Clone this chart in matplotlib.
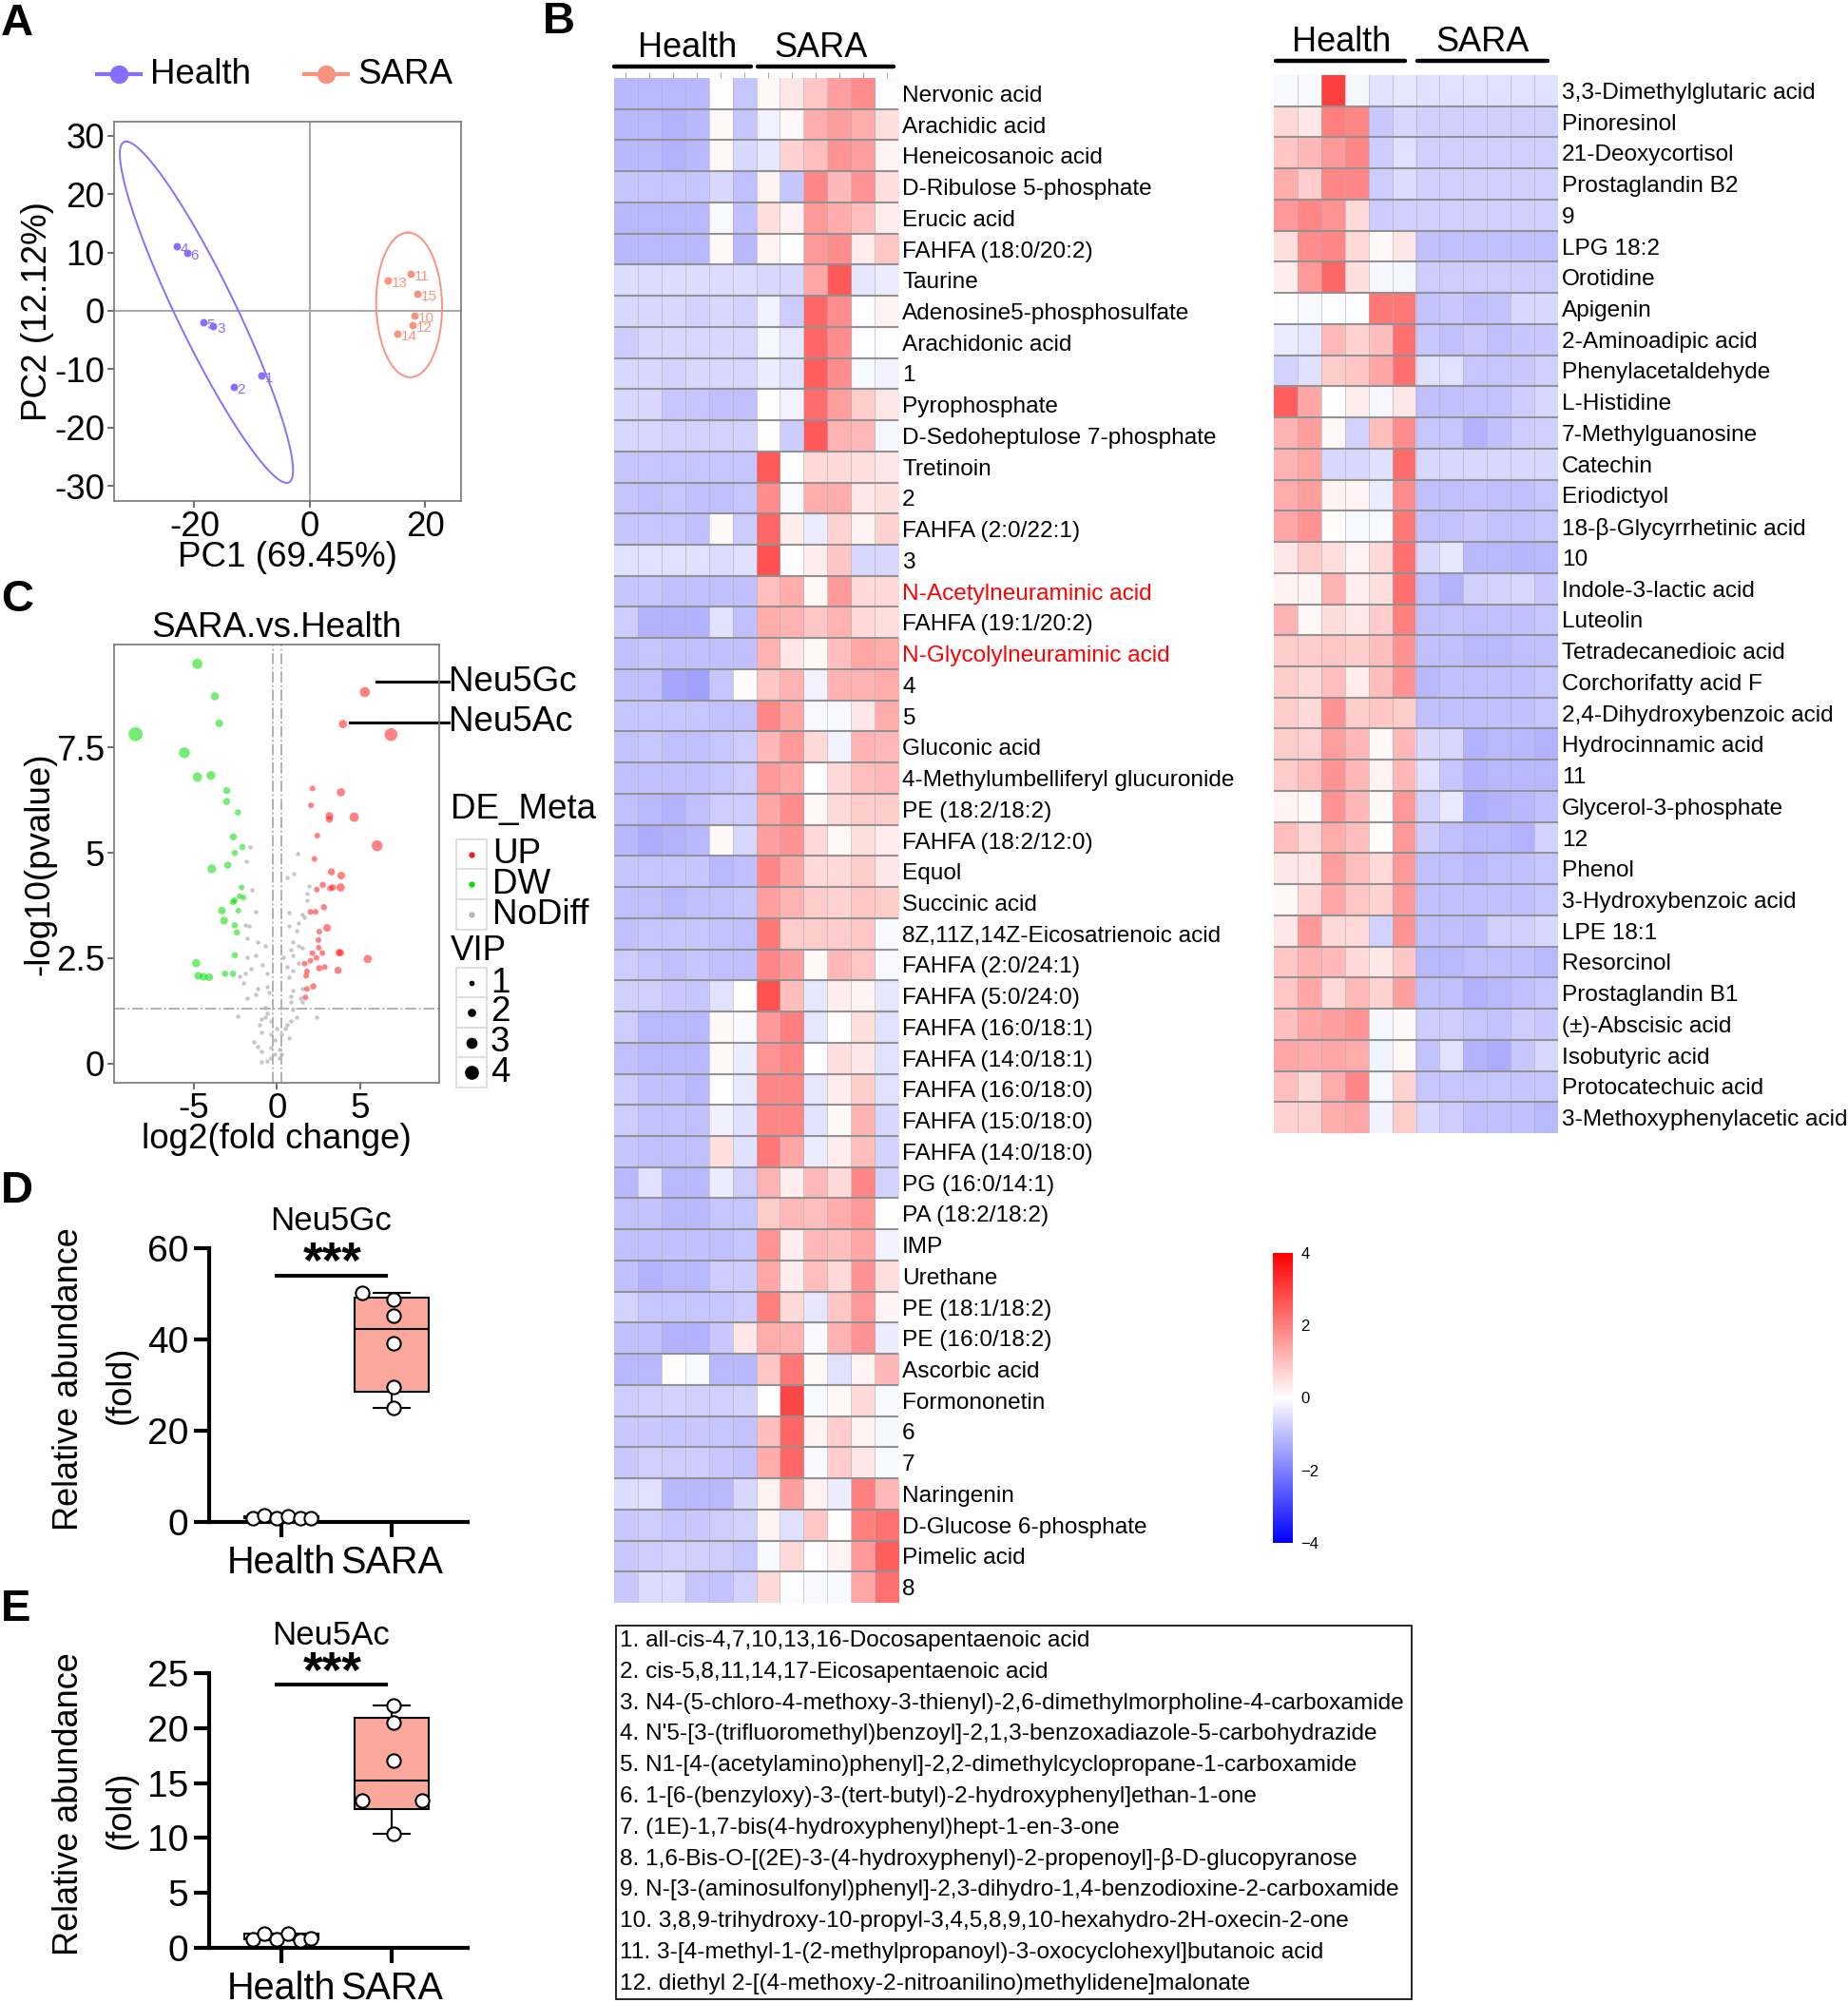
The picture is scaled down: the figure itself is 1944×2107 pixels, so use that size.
import numpy as np
import matplotlib
matplotlib.use("Agg")
import matplotlib.pyplot as plt
from matplotlib.colors import LinearSegmentedColormap
from matplotlib.patches import Rectangle
from matplotlib.lines import Line2D

plt.rcParams['font.family'] = ['Liberation Sans', 'DejaVu Sans']
plt.rcParams['axes.unicode_minus'] = False

W, H = 1944, 2107

# ── DATA ────────────────────────────────────────────────────────────────
# A: PCA scores
pca_health_x = [-8.4, -13.2, -16.7, -23.1, -18.5, -21.3]
pca_health_y = [-11.1, -13.0, -2.6, 11.0, -2.0, 10.0]
pca_health_id = ['1', '2', '3', '4', '5', '6']
pca_sara_x = [18.1, 17.5, 17.8, 13.5, 15.2, 18.7]
pca_sara_y = [-0.9, 6.3, -2.4, 5.2, -3.9, 2.9]
pca_sara_id = ['10', '11', '12', '13', '14', '15']
# confidence ellipses: centre, major-axis vector, minor-axis vector
ell_health = [(-17.9, -0.25), (-13.9, 29.25), (5.65, 0.0)]
ell_sara = [(17.2, 1.0), (-0.2, 12.4), (5.7, 0.0)]

# C: volcano plot
up_x = [5.28, 3.96, 6.85, 2.13, 3.84, 2.04, 3.15, 3.15, 4.64, 2.42, 6.02, 2.25, 3.27, 3.86,
        2.75, 2.39, 3.20, 3.36, 3.82, 2.82, 2.01, 2.32, 3.01, 2.54, 2.49, 2.51, 2.73, 2.13,
        3.72, 3.82, 5.45, 2.37, 1.66, 2.01, 2.54, 2.87, 3.67, 1.80, 1.75, 2.18, 1.80, 1.71]
up_y = [8.82, 8.06, 7.81, 6.53, 6.44, 6.13, 5.88, 5.80, 5.85, 5.41, 5.17, 4.86, 4.55, 4.46,
        4.24, 4.13, 4.16, 4.18, 4.18, 3.71, 3.60, 3.60, 3.22, 3.13, 2.93, 2.75, 2.62, 2.62,
        2.63, 2.63, 2.48, 2.51, 2.37, 2.44, 2.26, 2.29, 2.21, 2.19, 2.08, 1.83, 1.77, 1.57]
up_vip = [2.7, 2.0, 3.6, 1.1, 2.0, 1.1, 1.8, 1.6, 2.4, 1.1, 2.9, 1.1, 1.6, 1.8,
          1.3, 1.1, 1.3, 1.3, 2.0, 1.3, 1.1, 1.1, 1.8, 1.1, 1.1, 1.1, 1.1, 1.1,
          1.6, 1.6, 2.0, 1.1, 1.1, 1.1, 1.3, 1.1, 1.6, 1.1, 1.1, 1.3, 1.1, 1.1]
dw_x = [-4.79, -3.74, -3.48, -8.51, -5.57, -4.79, -3.98, -3.03, -3.03, -2.35, -2.63, -2.09,
        -2.54, -2.96, -3.93, -2.13, -2.25, -2.01, -2.54, -2.65, -3.32, -2.32, -3.18, -2.54,
        -2.42, -2.54, -4.86, -4.74, -4.43, -4.08, -3.13, -2.65]
dw_y = [9.49, 8.72, 8.08, 7.82, 7.38, 6.80, 6.84, 6.48, 6.22, 5.96, 5.38, 5.14,
        5.00, 4.71, 4.62, 4.18, 3.97, 3.94, 3.87, 3.83, 3.63, 3.63, 3.39, 3.28,
        3.11, 2.57, 2.38, 2.08, 2.06, 2.05, 2.13, 2.13]
dw_vip = [2.7, 2.0, 1.8, 4.0, 2.9, 2.4, 2.2, 1.6, 1.6, 1.3, 1.6, 1.3,
          1.3, 1.6, 2.2, 1.1, 1.1, 1.1, 1.3, 1.3, 1.8, 1.1, 1.8, 1.3,
          1.3, 1.3, 2.0, 1.8, 1.8, 1.8, 1.3, 1.3]
nd_x = [-1.64, -1.87, 1.26, 1.02, 0.59, 1.90, -1.49, 1.78, 1.78, -1.30, 0.71, 1.54, 1.66,
        1.30, 0.71, -1.90, -1.66, 1.18, -1.78, -1.18, -0.71, 0.95, 1.30, 0.83, 1.54, -1.30,
        0.95, -1.82, 0.36, 1.30, -0.88, -1.54, 0.59, 0.95, -1.90, -2.25, -0.59, 0.71, -2.01,
        -1.18, 1.54, -0.59, 0.95, 0.83, -1.30, -1.78, -0.47, 1.42, 0.83, 1.54, -2.37, 2.37,
        -0.71, -0.59, -0.95, 0.95, 1.18, 0.83, 0.59, 0.47, -1.07, -0.95, 0.24, -0.12, -1.42,
        -0.36, 0.12, -0.95, -0.12, -0.36, 0.12, -0.95, -0.59, 0.24, -1.18, 0.71, -0.36, 0.00,
        -0.36, -0.71]
nd_y = [5.14, 4.80, 4.98, 4.51, 4.42, 4.22, 4.13, 4.04, 3.87, 3.60, 3.58, 3.53, 3.46,
        3.33, 3.26, 3.29, 3.26, 3.15, 2.97, 2.88, 2.79, 2.88, 2.79, 2.71, 2.75, 2.57,
        2.57, 2.53, 2.53, 2.39, 2.35, 2.26, 2.30, 2.21, 2.13, 2.08, 2.13, 2.04, 1.90,
        1.77, 1.77, 1.83, 1.72, 1.59, 1.63, 1.54, 1.68, 1.54, 1.46, 1.46, 1.12, 1.10,
        1.32, 1.19, 1.05, 1.28, 1.10, 1.01, 0.92, 0.83, 0.92, 0.74, 0.70, 0.56, 0.52,
        0.38, 0.34, 0.29, 0.21, 0.12, 0.12, 0.04, 0.07, 0.21, 0.40, 0.61, 0.70, 0.83,
        1.01, 1.10]
nd_vip = 0.6
label_gc = (5.28, 9.06)
label_ac = (3.96, 8.10)

# B: heatmaps (z-scores; 6 Health columns then 6 SARA columns)
left_rows = ["Nervonic acid", "Arachidic acid", "Heneicosanoic acid", "D-Ribulose 5-phosphate",
             "Erucic acid", "FAHFA (18:0/20:2)", "Taurine", "Adenosine5-phosphosulfate",
             "Arachidonic acid", "1", "Pyrophosphate", "D-Sedoheptulose 7-phosphate", "Tretinoin",
             "2", "FAHFA (2:0/22:1)", "3", "N-Acetylneuraminic acid", "FAHFA (19:1/20:2)",
             "N-Glycolylneuraminic acid", "4", "5", "Gluconic acid",
             "4-Methylumbelliferyl glucuronide", "PE (18:2/18:2)", "FAHFA (18:2/12:0)", "Equol",
             "Succinic acid", "8Z,11Z,14Z-Eicosatrienoic acid", "FAHFA (2:0/24:1)",
             "FAHFA (5:0/24:0)", "FAHFA (16:0/18:1)", "FAHFA (14:0/18:1)", "FAHFA (16:0/18:0)",
             "FAHFA (15:0/18:0)", "FAHFA (14:0/18:0)", "PG (16:0/14:1)", "PA (18:2/18:2)", "IMP",
             "Urethane", "PE (18:1/18:2)", "PE (16:0/18:2)", "Ascorbic acid", "Formononetin",
             "6", "7", "Naringenin", "D-Glucose 6-phosphate", "Pimelic acid", "8"]
left_red = ["N-Acetylneuraminic acid", "N-Glycolylneuraminic acid"]
left_values = [
    [-1.1, -1.1, -1.1, -1.1, -0.05, -0.9, 0.1, 0.4, 0.9, 1.5, 1.8, -0.05],
    [-1.1, -1.1, -1.2, -1.1, 0.1, -0.9, -0.2, 0.1, 1.3, 1.5, 1.3, 0.5],
    [-1.1, -1.1, -1.2, -1.1, 0.15, -0.6, -0.4, 0.7, 1.0, 1.7, 1.5, 0.2],
    [-0.9, -0.9, -0.9, -0.9, -0.6, -1.0, 0.2, -0.9, 1.9, 1.1, 1.7, 0.5],
    [-1.1, -1.1, -1.1, -1.1, -0.1, -1.0, 0.5, 0.2, 1.6, 1.3, 1.0, 0.3],
    [-1.1, -1.1, -1.1, -1.1, 0.1, -1.1, 0.2, 0.0, 1.6, 1.8, 0.3, 0.9],
    [-0.55, -0.55, -0.55, -0.55, -0.55, -0.55, -0.6, -0.6, 1.4, 2.6, -0.4, -0.3],
    [-0.6, -0.6, -0.6, -0.7, -0.6, -0.7, -0.2, -0.8, 2.4, 1.8, -0.05, 0.2],
    [-0.8, -0.6, -0.6, -0.65, -0.6, -0.65, -0.15, -0.4, 2.4, 1.8, -0.05, -0.05],
    [-0.6, -0.6, -0.7, -0.6, -0.6, -0.65, -0.3, -0.5, 2.5, 1.8, -0.1, -0.2],
    [-0.6, -0.6, -0.9, -0.9, -1.0, -1.0, 0.0, -0.2, 2.3, 1.5, 0.8, 0.4],
    [-0.65, -0.65, -0.7, -0.7, -0.7, -0.7, 0.0, -0.8, 2.6, 1.2, 1.1, -0.15],
    [-0.9, -0.9, -0.9, -0.9, -0.9, -0.9, 2.6, 0.0, 0.6, 0.6, 0.5, 0.4],
    [-0.9, -1.0, -0.9, -1.0, -1.0, -0.9, 1.8, -0.1, 1.3, 1.3, 0.4, 0.5],
    [-0.9, -0.9, -0.9, -1.0, 0.1, -0.8, 2.4, 0.3, -0.3, 0.7, 0.2, 0.7],
    [-0.5, -0.5, -0.5, -0.5, -0.55, -0.5, 2.7, -0.05, 0.3, 0.9, -0.6, -0.6],
    [-0.9, -0.9, -1.0, -1.0, -1.0, -1.0, 1.0, 1.3, 0.15, 1.6, 0.6, 0.6],
    [-0.8, -1.2, -1.2, -1.2, -0.5, -1.0, 1.3, 1.2, 0.9, 1.2, 0.6, 0.5],
    [-1.0, -0.9, -1.0, -1.0, -1.0, -1.0, 1.2, 0.4, 0.15, 1.0, 1.4, 1.3],
    [-1.0, -1.0, -1.4, -1.5, -0.9, 0.05, 0.9, 1.2, -0.2, 1.2, 1.2, 1.3],
    [-0.9, -0.9, -0.9, -0.9, -0.95, -0.95, 1.9, 1.4, -0.1, -0.1, 0.4, 1.3],
    [-0.95, -0.9, -1.0, -1.0, -0.9, -0.8, 1.1, 1.6, 0.6, -0.2, 1.2, 1.1],
    [-1.0, -1.0, -1.0, -1.0, -0.9, -0.8, 1.6, 1.4, -0.05, 0.6, 1.0, 1.1],
    [-1.0, -1.1, -1.2, -1.0, -0.8, -0.8, 1.4, 1.8, 0.15, 0.6, 0.8, 0.8],
    [-1.1, -1.3, -1.2, -1.1, 0.1, -0.6, 1.5, 1.7, 0.6, 0.15, 0.5, 0.3],
    [-0.9, -0.9, -0.9, -0.9, -1.1, -1.0, 1.9, 1.4, 0.6, 0.6, 0.8, 0.4],
    [-1.0, -1.0, -1.1, -1.0, -0.95, -0.9, 1.5, 1.2, 0.8, 0.7, 0.9, 0.8],
    [-1.0, -0.9, -0.9, -0.9, -0.95, -1.0, 2.1, 0.8, 0.8, 0.8, 0.9, -0.1],
    [-0.8, -0.9, -1.0, -0.9, -1.0, -1.0, 1.9, 1.5, 0.1, 1.1, 0.9, -0.1],
    [-0.75, -0.75, -0.85, -0.9, -0.5, 0.0, 2.7, 1.0, -0.4, 0.3, 0.2, -0.4],
    [-0.8, -1.1, -1.1, -1.1, 0.1, -0.1, 1.6, 2.0, -0.4, 0.0, 0.5, -0.5],
    [-1.0, -1.1, -1.1, -1.1, 0.1, -0.3, 1.7, 1.9, -0.05, 0.5, 0.4, -0.5],
    [-0.8, -1.0, -1.0, -1.1, -0.05, -0.35, 1.9, 1.9, -0.4, 0.3, 0.8, -0.5],
    [-0.8, -0.95, -0.95, -1.0, -0.25, -0.5, 1.9, 1.9, -0.5, 0.1, 1.2, -0.6],
    [-0.9, -1.0, -1.0, -1.0, 0.5, -0.5, 2.1, 1.4, -0.3, 0.3, 1.0, -0.7],
    [-1.1, -0.5, -1.1, -1.1, -0.3, -0.8, 1.2, 0.3, 1.1, 0.6, 1.9, -0.7],
    [-0.95, -0.95, -1.1, -1.1, -0.9, -0.9, 0.8, 1.1, 1.0, 1.3, 1.6, 0.0],
    [-1.0, -1.0, -1.0, -1.0, -1.0, -0.9, 1.7, 0.3, 1.1, 1.0, 1.4, -0.2],
    [-1.0, -1.2, -1.1, -1.1, -0.8, -0.8, 1.4, 0.3, 1.0, 0.6, 1.7, 0.5],
    [-0.7, -0.9, -0.9, -0.9, -0.9, -0.8, 2.0, 0.6, -0.4, 0.9, 1.6, 0.2],
    [-1.0, -1.0, -1.2, -1.2, -0.85, 0.4, 1.3, 1.2, -0.1, 1.2, 1.7, -0.3],
    [-1.1, -1.1, 0.05, -0.1, -1.1, -1.1, 0.9, 2.1, 0.1, -0.5, 0.2, 1.1],
    [-0.8, -0.75, -0.7, -0.75, -0.75, -0.7, 0.0, 2.9, -0.1, 0.15, 0.6, -0.1],
    [-0.85, -0.85, -0.9, -0.85, -0.9, -0.95, 1.0, 2.4, 0.2, 0.8, 0.2, -0.15],
    [-0.85, -0.75, -0.8, -0.8, -0.85, -0.95, 1.3, 2.4, -0.1, 0.8, 0.4, -0.1],
    [-0.55, -0.5, -1.1, -1.1, -1.1, -0.6, 0.2, 1.5, 0.2, -0.3, 2.0, 1.1],
    [-0.85, -0.8, -0.9, -0.85, -0.8, -0.7, 0.2, -0.5, 0.9, 0.0, 2.0, 2.2],
    [-0.85, -0.8, -0.7, -0.75, -0.8, -0.9, -0.1, 0.6, -0.05, 0.2, 1.6, 2.5],
    [-0.85, -0.55, -0.55, -0.9, -0.95, -0.7, 0.6, -0.05, -0.1, -0.1, 1.4, 2.2],
]
right_rows = ["3,3-Dimethylglutaric acid", "Pinoresinol", "21-Deoxycortisol", "Prostaglandin B2",
              "9", "LPG 18:2", "Orotidine", "Apigenin", "2-Aminoadipic acid", "Phenylacetaldehyde",
              "L-Histidine", "7-Methylguanosine", "Catechin", "Eriodictyol",
              "18-\u03b2-Glycyrrhetinic acid", "10", "Indole-3-lactic acid", "Luteolin",
              "Tetradecanedioic acid", "Corchorifatty acid F", "2,4-Dihydroxybenzoic acid",
              "Hydrocinnamic acid", "11", "Glycerol-3-phosphate", "12", "Phenol",
              "3-Hydroxybenzoic acid", "LPE 18:1", "Resorcinol", "Prostaglandin B1",
              "(\u00b1)-Abscisic acid", "Isobutyric acid", "Protocatechuic acid",
              "3-Methoxyphenylacetic acid"]
right_values = [
    [-0.1, -0.1, 3.0, -0.15, -0.45, -0.4, -0.5, -0.5, -0.5, -0.5, -0.5, -0.5],
    [0.6, 0.4, 2.0, 1.9, -0.85, -0.6, -0.75, -0.75, -0.75, -0.75, -0.75, -0.75],
    [0.9, 1.1, 1.6, 1.9, -0.8, -0.5, -0.75, -0.75, -0.75, -0.75, -0.75, -0.75],
    [1.3, 0.8, 1.9, 1.9, -0.8, -0.55, -0.75, -0.75, -0.75, -0.75, -0.75, -0.75],
    [1.6, 1.9, 1.7, 0.6, -0.8, -0.75, -0.75, -0.75, -0.75, -0.75, -0.75, -0.75],
    [0.5, 1.8, 1.9, 0.6, 0.1, 0.4, -1.0, -1.0, -1.0, -1.0, -1.0, -1.0],
    [0.3, 1.6, 2.4, 0.5, -0.15, -0.15, -0.8, -0.8, -0.8, -0.8, -0.8, -0.8],
    [-0.05, -0.1, -0.05, -0.05, 2.1, 2.1, -0.95, -0.85, -1.0, -0.95, -0.6, -0.6],
    [-0.3, -0.4, 1.1, 0.7, 1.0, 2.2, -0.85, -1.0, -0.85, -1.0, -0.9, -0.85],
    [-0.7, -0.5, 0.8, 0.9, 1.4, 2.2, -0.5, -0.5, -0.9, -0.9, -0.85, -0.75],
    [2.5, 1.4, 0.0, 0.3, -0.15, 0.4, -1.0, -1.0, -0.95, -0.95, -0.8, -0.6],
    [1.2, 1.5, 0.15, -0.7, 1.0, 1.8, -0.9, -0.9, -1.2, -1.0, -0.8, -0.75],
    [1.2, 1.4, -0.6, -0.6, -0.5, 2.3, -0.6, -0.6, -0.6, -0.6, -0.6, -0.6],
    [1.3, 1.5, 0.2, 0.2, -0.3, 1.8, -1.0, -1.0, -0.95, -1.0, -1.0, -0.9],
    [1.4, 1.7, 0.05, -0.1, -0.1, 2.1, -0.95, -0.95, -0.85, -0.95, -0.95, -0.9],
    [0.4, 0.8, 0.5, 0.2, 0.6, 2.2, -0.6, -0.4, -1.1, -1.1, -1.15, -1.1],
    [0.2, 0.2, 1.2, 0.25, 0.5, 2.2, -1.0, -1.2, -0.75, -0.7, -0.65, -0.85],
    [1.2, 0.1, 0.55, 0.35, 0.8, 2.0, -1.0, -0.95, -1.0, -1.0, -1.0, -0.9],
    [0.8, 0.8, 0.9, 0.8, 1.0, 1.7, -1.0, -1.0, -1.1, -1.1, -1.0, -1.0],
    [0.8, 0.6, 1.0, 0.3, 1.0, 1.7, -1.1, -1.0, -1.0, -1.0, -1.0, -0.9],
    [0.8, 0.6, 1.7, 0.8, 0.9, 0.8, -1.0, -1.0, -1.0, -1.0, -1.0, -0.9],
    [0.8, 0.7, 1.5, 1.1, 0.1, 1.1, -0.6, -0.65, -1.2, -1.1, -1.1, -1.2],
    [0.8, 1.0, 1.7, 1.1, 0.2, 1.1, -0.5, -0.9, -1.2, -1.1, -1.1, -1.1],
    [0.2, 0.1, 1.7, 1.1, 0.1, 1.6, -0.7, -0.35, -1.3, -1.2, -1.1, -1.0],
    [1.0, 0.6, 1.3, 1.0, 0.05, 1.6, -0.8, -1.0, -1.1, -1.1, -1.2, -0.7],
    [0.4, 0.4, 1.5, 1.0, 0.6, 1.6, -1.0, -1.0, -1.1, -1.0, -1.0, -0.9],
    [0.1, 0.6, 1.4, 0.9, 0.7, 1.6, -1.0, -1.0, -1.0, -1.0, -1.0, -0.9],
    [0.4, 1.6, 0.6, 0.6, -0.7, 1.7, -1.0, -1.0, -1.05, -0.75, -0.75, -0.6],
    [0.9, 1.2, 1.1, 0.6, 0.4, 0.9, -1.1, -1.1, -1.0, -1.0, -1.0, -1.1],
    [0.9, 1.4, 0.6, 1.1, 0.7, 1.5, -1.0, -1.0, -1.2, -1.1, -1.0, -0.9],
    [1.0, 1.4, 1.5, 1.7, -0.15, 0.1, -0.8, -0.8, -0.9, -0.95, -0.8, -0.85],
    [1.4, 1.3, 1.4, 1.3, -0.2, 0.15, -0.95, -0.5, -1.2, -1.3, -0.9, -0.6],
    [1.0, 0.6, 1.3, 1.9, -0.15, 0.7, -0.9, -0.9, -0.9, -0.9, -0.9, -0.9],
    [0.7, 0.7, 1.3, 1.4, -0.2, 0.8, -0.6, -0.8, -1.0, -1.0, -1.0, -1.1],
]
footnotes = [
    "1. all-cis-4,7,10,13,16-Docosapentaenoic acid",
    "2. cis-5,8,11,14,17-Eicosapentaenoic acid",
    "3. N4-(5-chloro-4-methoxy-3-thienyl)-2,6-dimethylmorpholine-4-carboxamide",
    "4. N'5-[3-(trifluoromethyl)benzoyl]-2,1,3-benzoxadiazole-5-carbohydrazide",
    "5. N1-[4-(acetylamino)phenyl]-2,2-dimethylcyclopropane-1-carboxamide",
    "6. 1-[6-(benzyloxy)-3-(tert-butyl)-2-hydroxyphenyl]ethan-1-one",
    "7. (1E)-1,7-bis(4-hydroxyphenyl)hept-1-en-3-one",
    "8. 1,6-Bis-O-[(2E)-3-(4-hydroxyphenyl)-2-propenoyl]-\u03b2-D-glucopyranose",
    "9. N-[3-(aminosulfonyl)phenyl]-2,3-dihydro-1,4-benzodioxine-2-carboxamide",
    "10. 3,8,9-trihydroxy-10-propyl-3,4,5,8,9,10-hexahydro-2H-oxecin-2-one",
    "11. 3-[4-methyl-1-(2-methylpropanoyl)-3-oxocyclohexyl]butanoic acid",
    "12. diethyl 2-[(4-methoxy-2-nitroanilino)methylidene]malonate",
]

# D / E: relative abundance (fold)
groups = ["Health", "SARA"]
gc_health = [0.8, 1.5, 0.8, 1.3, 0.8, 0.8]
gc_sara = [50.3, 48.7, 45.3, 39.2, 29.6, 25.1]
ac_health = [0.8, 1.3, 0.8, 1.3, 0.7, 0.9]
ac_sara = [22.1, 20.5, 17.0, 13.4, 13.4, 10.4]
health_jit = [-0.26, -0.155, -0.04, 0.057, 0.17, 0.27]
gc_sara_jit = [-0.27, 0.02, 0.02, 0.02, 0.02, 0.02]
ac_sara_jit = [0.02, 0.02, 0.02, -0.265, 0.275, 0.02]

C_HEALTH = '#8470FF'
C_SARA = '#F8937E'
FS_AC = 26.5      # font size for panels A and C
FS_HM = 17.6      # heatmap row labels

fig = plt.figure(figsize=(W / 100, H / 100), dpi=100)


def rect(x0, y0, x1, y1):
    return [x0 / W, 1 - y1 / H, (x1 - x0) / W, (y1 - y0) / H]


def vip_size(v):
    d = 3.0 * np.asarray(v, dtype=float) + 2.7      # diameter in px
    return (d * 0.72) ** 2


# ── A: PCA ──────────────────────────────────────────────────────────────
axA = fig.add_axes(rect(120, 128, 485, 527))
axA.axhline(0, color='#aaaaaa', lw=1.5, zorder=0)
axA.axvline(0, color='#aaaaaa', lw=1.5, zorder=0)
t = np.linspace(0, 2 * np.pi, 300)
for ell, col in [(ell_health, C_HEALTH), (ell_sara, C_SARA)]:
    c, u, v = ell
    ex = c[0] + u[0] * np.cos(t) + v[0] * np.sin(t)
    ey = c[1] + u[1] * np.cos(t) + v[1] * np.sin(t)
    axA.plot(ex, ey, color=col, lw=1.4)
for xs, ys, ids, col in [(pca_health_x, pca_health_y, pca_health_id, C_HEALTH),
                         (pca_sara_x, pca_sara_y, pca_sara_id, C_SARA)]:
    axA.scatter(xs, ys, s=22, color=col, zorder=3)
    for x, y, s in zip(xs, ys, ids):
        axA.text(x + 0.6, y - 0.5, s, color=col, fontsize=11, ha='left', va='center')
axA.set_xlim(-33.9, 26.2)
axA.set_ylim(-32.6, 32.4)
axA.set_xticks([-20, 0, 20])
axA.set_yticks([-30, -20, -10, 0, 10, 20, 30])
axA.tick_params(labelsize=FS_AC, length=5, width=1.2, color='#555555', pad=2)
for s in axA.spines.values():
    s.set_color('#777777')
    s.set_linewidth(1.2)
axA.set_xlabel("PC1 (69.45%)", fontsize=FS_AC, labelpad=-2)
axA.set_ylabel("PC2 (12.12%)", fontsize=FS_AC, labelpad=0)

# ── C: volcano ──────────────────────────────────────────────────────────
axC = fig.add_axes(rect(120, 678, 462, 1139))
axC.axvline(-0.263, color='#aaaaaa', lw=1.3, ls='-.', zorder=0)
axC.axvline(0.263, color='#aaaaaa', lw=1.3, ls='-.', zorder=0)
axC.axhline(1.30, color='#aaaaaa', lw=1.3, ls='-.', zorder=0)
axC.scatter(nd_x, nd_y, s=vip_size(nd_vip), color='#b5b5b5', alpha=0.75, lw=0)
axC.scatter(dw_x, dw_y, s=vip_size(dw_vip), color='#00e000', alpha=0.55, lw=0)
axC.scatter(up_x, up_y, s=vip_size(up_vip), color='#ff1a1a', alpha=0.55, lw=0)
for (lx, ly), name, x0 in [(label_gc, "Neu5Gc", 6.0), (label_ac, "Neu5Ac", 4.38)]:
    axC.plot([x0, 10.3], [ly, ly], color='black', lw=2.2, clip_on=False)
    axC.text(10.35, ly, name, fontsize=FS_AC, ha='left', va='center')
axC.set_xlim(-9.8, 9.75)
axC.set_ylim(-0.46, 9.95)
axC.set_xticks([-5, 0, 5])
axC.set_yticks([0, 2.5, 5, 7.5])
axC.set_yticklabels(["0", "2.5", "5", "7.5"])
axC.tick_params(labelsize=FS_AC, length=5, width=1.2, color='#555555', pad=2)
for s in axC.spines.values():
    s.set_color('#777777')
    s.set_linewidth(1.2)
axC.set_xlabel("log2(fold change)", fontsize=FS_AC, labelpad=-2)
axC.set_ylabel("-log10(pvalue)", fontsize=FS_AC, labelpad=0)
axC.set_title("SARA.vs.Health", fontsize=FS_AC, pad=5)

# ── B: heatmaps ─────────────────────────────────────────────────────────
cmap = LinearSegmentedColormap.from_list("hm", ["#0000FF", "#FFFFFF", "#FF0000"])


def heatmap(box, values, rows, red_rows, top_ticks):
    ax = fig.add_axes(rect(*box))
    data = np.array(values)
    n = data.shape[0]
    im = ax.imshow(data, cmap=cmap, vmin=-4, vmax=4, aspect='auto',
                   extent=(0, 12, n, 0), interpolation='nearest')
    for k in range(1, 12):
        ax.axvline(k, color='#b0b0b0', lw=0.7, alpha=0.6)
    for k in range(1, n):
        ax.axhline(k, color='#929292', lw=1.5)
    ax.set_yticks(np.arange(n) + 0.5)
    ax.set_yticklabels(rows, fontsize=FS_HM)
    ax.yaxis.tick_right()
    ax.tick_params(axis='y', length=0, pad=3)
    for lab in ax.get_yticklabels():
        if lab.get_text() in red_rows:
            lab.set_color('red')
    if top_ticks:
        ax.xaxis.tick_top()
        ax.set_xticks(np.arange(12) + 0.5)
        ax.set_xticklabels([])
        ax.tick_params(axis='x', length=4, color='#aaaaaa', width=0.8)
    else:
        ax.set_xticks([])
    for s in ax.spines.values():
        s.set_visible(False)
    return im


im = heatmap((646, 82, 945, 1686), left_values, left_rows, left_red, True)
heatmap((1340, 79, 1639, 1192), right_values, right_rows, [], False)

cax = fig.add_axes(rect(1339, 1318, 1360, 1623))
cb = fig.colorbar(im, cax=cax, ticks=[-4, -2, 0, 2, 4])
cb.ax.set_yticklabels(['\u22124', '\u22122', '0', '2', '4'])
cb.outline.set_visible(False)
cb.ax.tick_params(length=0, labelsize=12, pad=6)


# ── D / E: box plots (quartiles as in Prism, n+1 method) ───────────────
def box_stats(vals):
    q1, med, q3 = np.percentile(vals, [25, 50, 75], method='weibull')
    return dict(med=med, q1=q1, q3=q3, whislo=min(vals), whishi=max(vals), fliers=[])


def abundance(box, health, sara, s_jit, ymax, yticks, bar_y):
    ax = fig.add_axes(rect(*box))
    bp = ax.bxp([box_stats(health), box_stats(sara)], positions=[0, 1], widths=0.67,
                patch_artist=True, showfliers=False, capwidths=0.32,
                medianprops=dict(color='black', lw=1.5),
                boxprops=dict(lw=1.5, edgecolor='black'),
                whiskerprops=dict(lw=1.5), capprops=dict(lw=1.5))
    bp['boxes'][0].set_facecolor('white')
    bp['boxes'][1].set_facecolor('#F9A89B')
    ax.scatter(np.array(health_jit), health, s=105, facecolor='white', edgecolor='black',
               lw=1.5, zorder=5, clip_on=False)
    ax.scatter(1 + np.array(s_jit), sara, s=105, facecolor='white', edgecolor='black',
               lw=1.5, zorder=5, clip_on=False)
    ax.plot([-0.06, 0.97], [bar_y, bar_y], color='black', lw=2.8, solid_capstyle='butt')
    ax.set_xlim(-0.655, 1.69)
    ax.set_ylim(0, ymax)
    ax.set_yticks(yticks)
    ax.set_xticks([0, 1])
    ax.set_xticklabels(groups, fontsize=28.5)
    ax.tick_params(axis='y', labelsize=28, length=11.5, width=3, pad=4)
    ax.tick_params(axis='x', length=11.3, width=3, pad=6)
    ax.spines['top'].set_visible(False)
    ax.spines['right'].set_visible(False)
    ax.spines['left'].set_linewidth(3)
    ax.spines['bottom'].set_linewidth(3)
    return ax


abundance((220, 1313, 492, 1601), gc_health, gc_sara, gc_sara_jit, 60, [0, 20, 40, 60], 54)
abundance((220, 1760, 492, 2049), ac_health, ac_sara, ac_sara_jit, 25, [0, 5, 10, 15, 20, 25], 24)

# ── overlay: labels, legends, headers, footnote box ─────────────────────
ov = fig.add_axes([0, 0, 1, 1], zorder=10)
ov.set_xlim(0, W)
ov.set_ylim(H, 0)
ov.axis('off')
ov.patch.set_alpha(0)

for lab, x, y in [("A", 1, 3), ("B", 571, 1), ("C", 1, 609), ("D", 1, 1231), ("E", 1, 1671)]:
    ov.text(x, y, lab, fontsize=34, fontweight='bold', ha='left', va='top')

# A legend
for x0, x1, col, name in [(102, 148, C_HEALTH, "Health"), (320, 366, C_SARA, "SARA")]:
    ov.add_line(Line2D([x0, x1], [78, 78], color=col, lw=3))
    ov.plot([(x0 + x1) / 2], [78], 'o', color=col, ms=13)
    ov.text(x1 + 10, 78, name, fontsize=FS_AC, ha='left', va='center')

# C legend
ov.text(474, 852, "DE_Meta", fontsize=FS_AC, ha='left', va='center')
for yc, col, name in [(899, '#ff1a1a', "UP"), (930, '#00e000', "DW"), (962, '#b5b5b5', "NoDiff")]:
    ov.add_patch(Rectangle((480, yc - 16), 32, 32, facecolor='white', edgecolor='#d8d8d8', lw=1.2))
    ov.scatter([496], [yc], s=vip_size(1.2), color=col, lw=0)
    ov.text(518, yc, name, fontsize=FS_AC, ha='left', va='center')
ov.text(474, 1001, "VIP", fontsize=FS_AC, ha='left', va='center')
for k, yc in zip([1, 2, 3, 4], [1034, 1065, 1097, 1128]):
    ov.add_patch(Rectangle((480, yc - 16), 32, 32, facecolor='white', edgecolor='#d8d8d8', lw=1.2))
    ov.scatter([496], [yc], s=vip_size(k), color='black', lw=0)
    ov.text(516, yc, str(k), fontsize=FS_AC, ha='left', va='center')

# heatmap headers
for cx, x0, x1, ty, ly, name in [(723, 646, 790, 50, 70, "Health"), (864, 797, 940, 50, 70, "SARA"),
                                  (1411, 1342, 1478, 44, 64, "Health"), (1560, 1491, 1628, 44, 64, "SARA")]:
    ov.text(cx, ty, name, fontsize=26, ha='center', va='center')
    ov.add_line(Line2D([x0, x1], [ly, ly], color='black', lw=3.2, solid_capstyle='round'))

# D / E titles, y labels and significance stars
for yc, title, ty, sy in [(1457, "Neu5Gc", 1285, 1330), (1904, "Neu5Ac", 1720, 1761)]:
    ov.text(348, ty, title, fontsize=25, ha='center', va='center')
    ov.text(350, sy, "***", fontsize=38, fontweight='bold', ha='center', va='center')
    ov.text(73, yc - 6, "Relative abundance", fontsize=26, rotation=90, ha='center', va='center')
    ov.text(127, yc, "(fold)", fontsize=26, rotation=90, ha='center', va='center')

# footnote box
ov.add_patch(Rectangle((648, 1710), 837, 393, fill=False, edgecolor='black', lw=1.2))
for i, line in enumerate(footnotes):
    ov.text(652, 1726 + i * 32.8, line, fontsize=17.6, ha='left', va='center')

fig.savefig("out.png", dpi=100)
